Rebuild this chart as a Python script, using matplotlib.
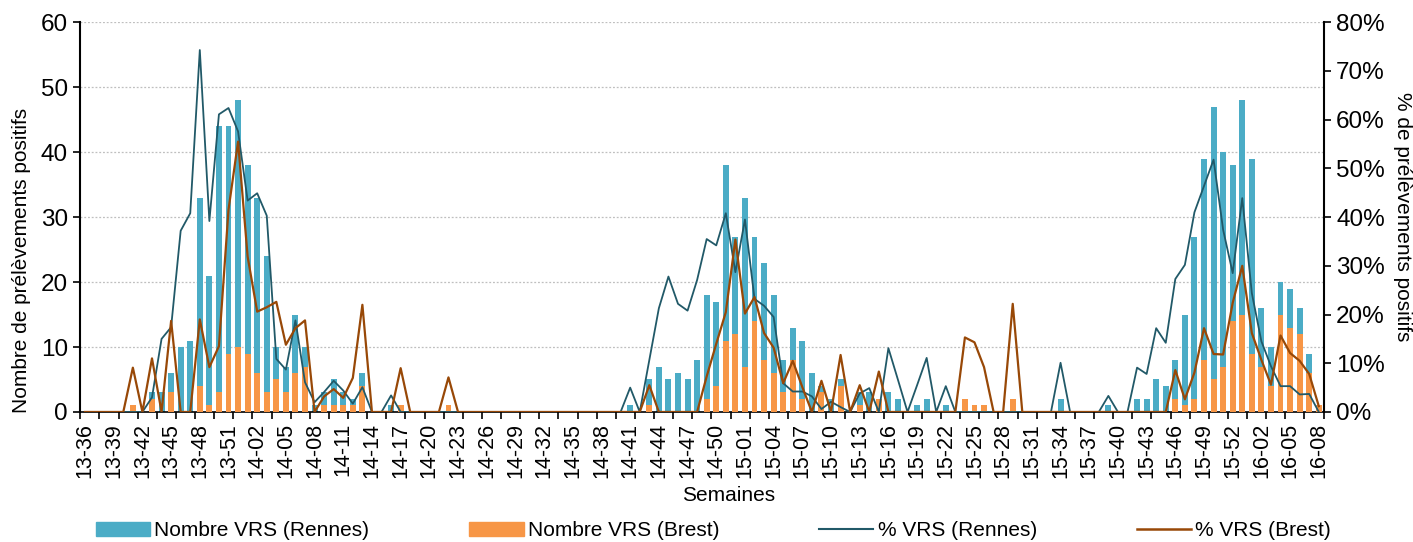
import matplotlib
matplotlib.use("Agg")
import matplotlib.pyplot as plt
import numpy as np
from matplotlib.ticker import FuncFormatter
from matplotlib.patches import Patch
from matplotlib.lines import Line2D

# --- DONNEES ---
# semaines 2013-36 -> 2016-08 (2015 a 53 semaines)
semaines = ([f"13-{w:02d}" for w in range(36, 53)]
            + [f"14-{w:02d}" for w in range(1, 53)]
            + [f"15-{w:02d}" for w in range(1, 54)]
            + [f"16-{w:02d}" for w in range(1, 9)])

# nombre de prelevements positifs VRS - Rennes
rennes_nb_2013 = [0, 0, 0, 0, 0, 0, 0, 3, 3, 6, 10, 11, 33, 21, 44, 44, 48]
rennes_nb_2014 = ([38, 33, 24, 10, 7, 15, 10, 1, 3, 5, 3, 2, 6, 0, 0, 1] + [0] * 24
                  + [1, 0, 5, 7, 5, 6, 5, 8, 18, 17, 38, 27])
rennes_nb_2015 = ([33, 27, 23, 18, 8, 13, 11, 6, 4, 2, 5, 0, 3, 3, 0, 3, 2, 0, 1, 2, 0, 1]
                  + [0] * 11 + [2] + [0] * 4
                  + [1, 0, 0, 2, 2, 5, 4, 8, 15, 27, 39, 47, 40, 38, 48])
rennes_nb_2016 = [39, 16, 10, 20, 19, 16, 9, 0]

# nombre de prelevements positifs VRS - Brest
brest_nb_2013 = [0, 0, 0, 0, 0, 1, 0, 2, 0, 3, 0, 0, 4, 1, 3, 9, 10]
brest_nb_2014 = ([9, 6, 3, 5, 3, 6, 7, 0, 1, 1, 1, 1, 4, 0, 0, 0, 1] + [0] * 4 + [1]
                 + [0] * 20 + [1] + [0] * 5 + [2, 4, 11, 12])
brest_nb_2015 = ([7, 14, 8, 6, 3, 8, 2, 0, 3, 0, 4, 0, 1, 0, 2] + [0] * 8
                 + [2, 1, 1, 0, 0, 2] + [0] * 16 + [2, 1, 2, 8, 5, 7, 14, 15])
brest_nb_2016 = [9, 7, 4, 15, 13, 12, 6, 1]

# % de prelevements positifs - Rennes
rennes_pct_2013 = [0, 0, 0, 0, 0, 0, 0, 3.0, 15.0, 17.4, 37.2, 40.8, 74.3, 39.2, 61.1, 62.4, 57.6]
rennes_pct_2014 = ([43.4, 44.9, 40.3, 10.9, 8.7, 18.8, 6.1, 2.0, 4.1, 6.4, 4.4, 1.7, 5.1, 0, 0, 3.4]
                   + [0] * 24
                   + [5.0, 0, 10.7, 21.3, 27.8, 22.2, 20.8, 27.1, 35.5, 34.2, 40.8, 28.7])
rennes_pct_2015 = ([39.5, 23.2, 21.8, 19.5, 5.9, 4.2, 4.2, 3.2, 0.6, 2.1, 1.0, 0, 3.8, 4.9, 0,
                    13.1, 6.6, 0, 5.5, 11.1, 0, 5.3]
                   + [0] * 11 + [10.1] + [0] * 4
                   + [3.3, 0, 0, 9.1, 7.8, 17.2, 14.2, 27.3, 30.2, 41.0, 46.4, 51.8, 37.4, 28.5, 43.9])
rennes_pct_2016 = [24.4, 14.5, 9.4, 5.3, 5.3, 3.6, 3.7, 0]

# % de prelevements positifs - Brest
brest_pct_2013 = [0, 0, 0, 0, 0, 9.1, 0, 11.0, 0, 18.7, 0, 0, 19.0, 9.2, 13.5, 41.5, 55.5]
brest_pct_2014 = ([31.9, 20.6, 21.5, 22.6, 13.8, 17.2, 18.8, 0, 3.2, 4.7, 2.9, 7.0, 22.0, 0, 0, 0, 9.0]
                  + [0] * 4 + [7.1] + [0] * 20 + [5.5] + [0] * 5 + [7.3, 14.0, 20.5, 35.4])
brest_pct_2015 = ([20.2, 23.6, 16.2, 13.2, 5.9, 10.5, 5.1, 0, 6.4, 0, 11.7, 0, 5.5, 0, 8.3]
                  + [0] * 8 + [15.3, 14.3, 9.2, 0, 0, 22.2] + [0] * 16
                  + [8.6, 2.6, 8.1, 17.2, 11.9, 11.8, 22.4, 30.0])
brest_pct_2016 = [16.2, 10.7, 5.6, 15.7, 12.1, 10.5, 7.8, 1.2]

rennes_nb = rennes_nb_2013 + rennes_nb_2014 + rennes_nb_2015 + rennes_nb_2016
brest_nb = brest_nb_2013 + brest_nb_2014 + brest_nb_2015 + brest_nb_2016
rennes_pct = rennes_pct_2013 + rennes_pct_2014 + rennes_pct_2015 + rennes_pct_2016
brest_pct = brest_pct_2013 + brest_pct_2014 + brest_pct_2015 + brest_pct_2016

# --- COULEURS ---
c_bleu = '#4BACC6'
c_orange = '#F79646'
c_rennes = '#215968'
c_brest = '#984807'

plt.rcParams['font.family'] = ['Liberation Sans', 'DejaVu Sans']
fs = 15       # titres d'axes et legende
fs_tick = 17.5  # etiquettes des axes y

fig = plt.figure(figsize=(14.13, 5.42), dpi=100)
ax = fig.add_axes([0.0568, 0.2399, 0.8799, 0.719])

x = np.arange(len(semaines))
ax.bar(x, rennes_nb, width=0.62, color=c_bleu, zorder=2)
ax.bar(x, brest_nb, width=0.62, color=c_orange, zorder=3)

ax.set_xlim(-0.5, len(semaines) - 0.5)
ax.set_ylim(0, 60)
ax.set_yticks(range(0, 61, 10))
ax.yaxis.grid(True, linestyle=(0, (1.5, 1.5)), color='#BFBFBF', linewidth=0.9)
ax.set_axisbelow(True)

ax.set_xticks(x[::3])
ax.set_xticklabels(semaines[::3], rotation=90, fontsize=15.5)
ax.tick_params(axis='x', which='major', length=0, pad=8)
ax.set_xticks(np.arange(-0.5, len(semaines), 2), minor=True)
ax.tick_params(axis='x', which='minor', length=5, width=1.2, direction='out')
ax.tick_params(axis='y', length=5, width=1.2, direction='out', labelsize=fs_tick, pad=4)

for s in ['top', 'right']:
    ax.spines[s].set_visible(False)
ax.spines['left'].set_linewidth(1.5)
ax.spines['bottom'].set_linewidth(1.2)

# --- axe secondaire (%) ---
ax2 = ax.twinx()
ax2.plot(x, rennes_pct, color=c_rennes, lw=1.3, zorder=4)
ax2.plot(x, brest_pct, color=c_brest, lw=1.6, zorder=5)
ax2.set_ylim(0, 80)
ax2.set_yticks(range(0, 81, 10))
ax2.yaxis.set_major_formatter(FuncFormatter(lambda v, p: f"{v:.0f}%"))
ax2.tick_params(axis='y', length=5, width=1.2, direction='out', labelsize=fs_tick, pad=4)
for s in ['top', 'left', 'bottom']:
    ax2.spines[s].set_visible(False)
ax2.spines['right'].set_linewidth(1.5)

# --- textes ---
fig.text(0.0155, 0.52, 'Nombre de prélèvements positifs', rotation=90,
         ha='center', va='center', fontsize=fs)
fig.text(0.9925, 0.6, '% de prélèvements positifs', rotation=-90,
         ha='center', va='center', fontsize=fs)
fig.text(0.516, 0.085, 'Semaines', ha='center', va='center', fontsize=fs)

handles = [Patch(color=c_bleu), Patch(color=c_orange),
           Line2D([], [], color=c_rennes, lw=1.5), Line2D([], [], color=c_brest, lw=1.8)]
labels = ['Nombre VRS (Rennes)', 'Nombre VRS (Brest)', '% VRS (Rennes)', '% VRS (Brest)']
fig.legend(handles, labels, loc='center', ncol=4, mode='expand',
           bbox_to_anchor=(96 / 1413, 0.003, (1331 - 96) / 1413, 0.035),
           frameon=False, fontsize=fs, handlelength=2.6, handletextpad=0.2,
           borderaxespad=0, borderpad=0)

fig.savefig('out.png', dpi=100)
